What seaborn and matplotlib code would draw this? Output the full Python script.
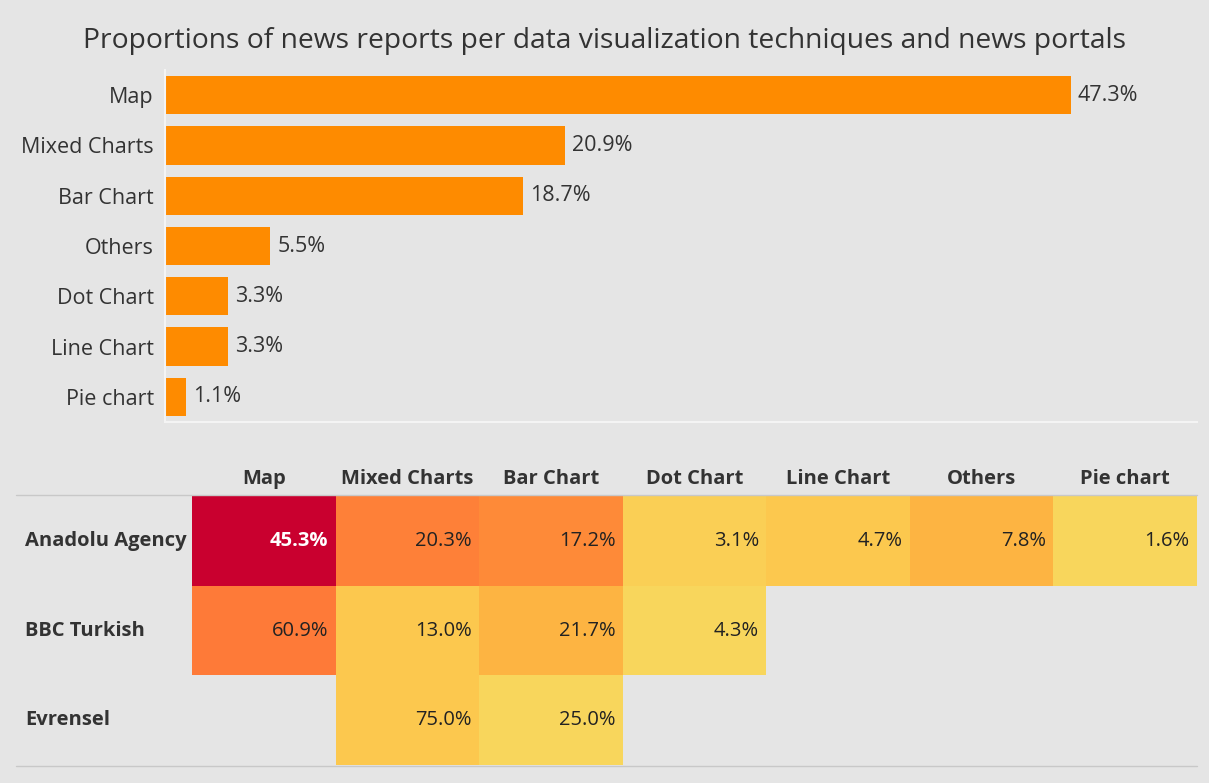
import numpy as np
import pandas as pd
import matplotlib
matplotlib.use('Agg')
import matplotlib.pyplot as plt
import seaborn as sns
from matplotlib.colors import LinearSegmentedColormap
from matplotlib.lines import Line2D

# Data
techniques = ['Map', 'Mixed Charts', 'Bar Chart', 'Others', 'Dot Chart', 'Line Chart', 'Pie chart']
overall_pct = [47.3, 20.9, 18.7, 5.5, 3.3, 3.3, 1.1]

portals = ['Anadolu Agency', 'BBC Turkish', 'Evrensel']
heat_cols = ['Map', 'Mixed Charts', 'Bar Chart', 'Dot Chart', 'Line Chart', 'Others', 'Pie chart']
aa_pct = [45.3, 20.3, 17.2, 3.1, 4.7, 7.8, 1.6]
bbc_pct = [60.9, 13.0, 21.7, 4.3, np.nan, np.nan, np.nan]
evr_pct = [np.nan, 75.0, 25.0, np.nan, np.nan, np.nan, np.nan]
# number of reports per cell (drives the colour)
aa_cnt = [29, 13, 11, 2, 3, 5, 1]
bbc_cnt = [14, 3, 5, 1, np.nan, np.nan, np.nan]
evr_cnt = [np.nan, 3, 1, np.nan, np.nan, np.nan, np.nan]

bg = '#e5e5e5'
sns.set_theme(style='white')
plt.rcParams['font.family'] = ['Open Sans', 'DejaVu Sans']

fig = plt.figure(figsize=(12.09, 7.83), dpi=100)
fig.patch.set_facecolor(bg)

# Bar chart
ax1 = fig.add_axes([0.1365, 0.461, 0.8535, 0.4496])
ax1.set_facecolor(bg)
bars_df = pd.DataFrame({'technique': techniques, 'pct': overall_pct})
sns.barplot(data=bars_df, y='technique', x='pct', color='#fe8b00', width=0.76,
            saturation=1, linewidth=0, ax=ax1)
ax1.bar_label(ax1.containers[0], labels=[f'{v:.1f}%' for v in overall_pct],
              padding=5, fontsize=15.5, color='#333333')
ax1.set_xlim(0, 53.9)
ax1.set_xlabel('')
ax1.set_ylabel('')
ax1.set_xticks([])
ax1.tick_params(axis='y', length=0, pad=8, labelsize=15.5, labelcolor='#333333')
for s in ['top', 'right']:
    ax1.spines[s].set_visible(False)
for s in ['left', 'bottom']:
    ax1.spines[s].set_color('#f4f4f4')
    ax1.spines[s].set_linewidth(1.5)

fig.text(0.5, 0.947, 'Proportions of news reports per data visualization techniques and news portals',
         ha='center', va='center', fontsize=20.3, color='#333333')

# Heat table
ax2 = fig.add_axes([0.1588, 0.023, 0.8312, 0.3435])
ax2.set_facecolor(bg)
pct = pd.DataFrame([aa_pct, bbc_pct, evr_pct], index=portals, columns=heat_cols)
cnt = pd.DataFrame([aa_cnt, bbc_cnt, evr_cnt], index=portals, columns=heat_cols)
cmap = LinearSegmentedColormap.from_list('tab', [
    (0.0, '#f8d65c'), (2 / 28, '#fcc84e'), (4 / 28, '#fdb442'),
    (10 / 28, '#fe8a38'), (13 / 28, '#fe7a38'), (1.0, '#c9002f')])
sns.heatmap(cnt, cmap=cmap, vmin=1, vmax=29, cbar=False, linewidths=0, ax=ax2)
for i in range(len(portals)):
    for j in range(len(heat_cols)):
        v = pct.iloc[i, j]
        if np.isnan(v):
            continue
        c = 'white' if cnt.iloc[i, j] == 29 else '#222222'
        ax2.text(j + 0.95, i + 0.5, f'{v:.1f}%', ha='right', va='center',
                 fontsize=14.5, color=c, fontweight='bold' if c == 'white' else 'normal')
ax2.xaxis.tick_top()
ax2.set_xticklabels(heat_cols, rotation=0, fontsize=14.5, fontweight='bold', color='#333333')
ax2.set_yticklabels(portals, rotation=0, fontsize=14.5, fontweight='bold', color='#333333',
                    ha='left')
ax2.tick_params(axis='x', length=0, pad=5)
ax2.tick_params(axis='y', length=0, pad=120)
ax2.set_xlabel('')
ax2.set_ylabel('')

fig.add_artist(Line2D([16 / 1209, 0.99], [1 - 495 / 783] * 2, color='#c8c8c8', lw=1))
fig.add_artist(Line2D([16 / 1209, 0.99], [1 - 766 / 783] * 2, color='#c8c8c8', lw=1))

fig.savefig('out.png', dpi=100, facecolor=bg)
